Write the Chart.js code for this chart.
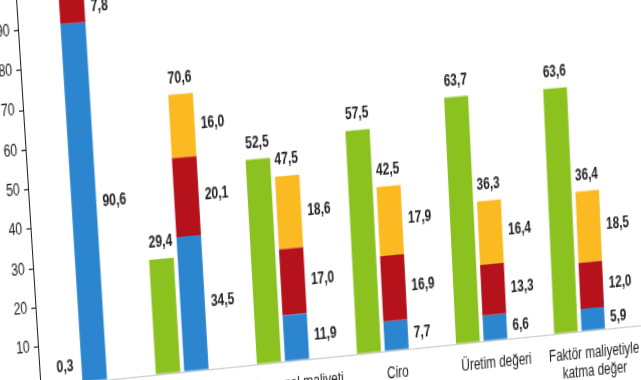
<!DOCTYPE html>
<html>
<head>
<meta charset="utf-8">
<script src="https://cdn.jsdelivr.net/npm/chart.js@4"></script>
<style>
  html, body { margin: 0; padding: 0; background: #fff; overflow: hidden; width: 641px; height: 380px; }
  #wrap { position: absolute; left: 0; top: 0; width: 640px; height: 345px; transform-origin: 0 0; }
</style>
</head>
<body>
<div id="wrap"><canvas id="chart"></canvas></div>
<script>
  // veriler (%)
  const categories = ["Girişim sayısı", "İstihdam", "Personel maliyeti", "Ciro", "Üretim değeri", ["Faktör maliyetiyle", "katma değer"]];
  const buyuk = [0.3, 29.4, 52.5, 57.5, 63.7, 63.6];
  const mikro = [90.6, 34.5, 11.9, 7.7, 6.6, 5.9];
  const kucuk = [7.8, 20.1, 17.0, 16.9, 13.3, 12.0];
  const orta = [1.3, 16.0, 18.6, 17.9, 16.4, 18.5];
  const yTicks = [0, 10, 20, 30, 40, 50, 60, 70, 80, 90, 100];

  const fmt = v => v.toFixed(1).replace(".", ",");
  const pts = arr => arr.map((v, i) => ({ x: i, y: v }));

  // etiketler
  const labelPlugin = {
    id: "labels",
    afterDatasetsDraw(chart) {
      const ctx = chart.ctx;
      ctx.save();
      ctx.font = "bold 12px 'Liberation Sans', Arial, sans-serif";
      ctx.fillStyle = "#1f1f1f";
      chart.data.datasets.forEach((ds, di) => {
        const meta = chart.getDatasetMeta(di);
        meta.data.forEach((bar, i) => {
          const v = ds.data[i].y;
          if (ds.stack === "a") {
            ctx.textAlign = "center";
            ctx.textBaseline = "bottom";
            ctx.fillText(fmt(v), bar.x, bar.y - 6);
          } else {
            ctx.textAlign = "left";
            ctx.textBaseline = "middle";
            ctx.fillText(fmt(v), bar.x + bar.width / 2 + 6, (bar.y + bar.base) / 2);
            if (di === chart.data.datasets.length - 1) {
              const total = mikro[i] + kucuk[i] + orta[i];
              ctx.textAlign = "center";
              ctx.textBaseline = "bottom";
              ctx.fillText(fmt(total), bar.x, bar.y - 6);
            }
          }
        });
      });
      ctx.restore();
    }
  };

  const chart = new Chart(document.getElementById("chart"), {
    type: "bar",
    data: {
      datasets: [
        { label: "Büyük", data: pts(buyuk), backgroundColor: "#8cc21f", stack: "a" },
        { label: "Mikro", data: pts(mikro), backgroundColor: "#2b86cf", stack: "b" },
        { label: "Küçük", data: pts(kucuk), backgroundColor: "#b5121b", stack: "b" },
        { label: "Orta", data: pts(orta), backgroundColor: "#fbba22", stack: "b" }
      ]
    },
    options: {
      responsive: true,
      maintainAspectRatio: false,
      animation: false,
      categoryPercentage: 0.56,
      barPercentage: 0.86,
      layout: { padding: { top: 10, right: 4 } },
      plugins: { legend: { display: false }, tooltip: { enabled: false } },
      scales: {
        x: {
          type: "linear",
          offset: false,
          min: -0.39,
          max: 5.62,
          stacked: true,
          // etiketler yığılmış sütunun altında
          afterBuildTicks: s => { s.ticks = categories.map((c, i) => ({ value: i + 0.14 })); },
          ticks: {
            callback: v => categories[Math.round(v)],
            color: "#222",
            font: { family: "'Liberation Sans', Arial, sans-serif", size: 12 },
            maxRotation: 0,
            autoSkip: false,
            padding: 2
          },
          grid: { display: false, offset: false },
          border: { color: "#d0d0d0" }
        },
        y: {
          stacked: true,
          min: 0,
          max: 100,
          afterBuildTicks: s => { s.ticks = yTicks.map(v => ({ value: v })); },
          ticks: {
            color: "#222",
            font: { family: "'Liberation Sans', Arial, sans-serif", size: 12 },
            padding: 4
          },
          grid: { drawOnChartArea: false, tickLength: 4, color: "#333" },
          border: { color: "#222" }
        }
      }
    },
    plugins: [labelPlugin]
  });

  // fotoğraftaki perspektif: 4 nokta eşlemesi (homografi)
  const xs = chart.scales.x, ys = chart.scales.y;
  const px = (x, v) => [xs.getPixelForValue(x), ys.getPixelForValue(v)];
  const src = [px(xs.min, 0), px(xs.min, 100), px(4.86, 63.6), px(4.86, 0)];
  const dst = [[40.5, 386.6], [15.5, -9.6], [555, 88.3], [566, 333]];

  function solve(A, bv) {
    const n = bv.length;
    const M = A.map((r, i) => r.concat([bv[i]]));
    for (let i = 0; i < n; i++) {
      let p = i;
      for (let r = i + 1; r < n; r++) if (Math.abs(M[r][i]) > Math.abs(M[p][i])) p = r;
      [M[i], M[p]] = [M[p], M[i]];
      for (let r = 0; r < n; r++) {
        if (r === i) continue;
        const k = M[r][i] / M[i][i];
        for (let cc = i; cc <= n; cc++) M[r][cc] -= k * M[i][cc];
      }
    }
    return M.map((r, i) => r[n] / r[i]);
  }

  const A = [], B = [];
  src.forEach(([u, v], i) => {
    const [x, y] = dst[i];
    A.push([u, v, 1, 0, 0, 0, -u * x, -v * x]); B.push(x);
    A.push([0, 0, 0, u, v, 1, -u * y, -v * y]); B.push(y);
  });
  const h = solve(A, B);
  document.getElementById("wrap").style.transform =
    `matrix3d(${h[0]},${h[3]},0,${h[6]},${h[1]},${h[4]},0,${h[7]},0,0,1,0,${h[2]},${h[5]},0,1)`;
</script>
</body>
</html>
